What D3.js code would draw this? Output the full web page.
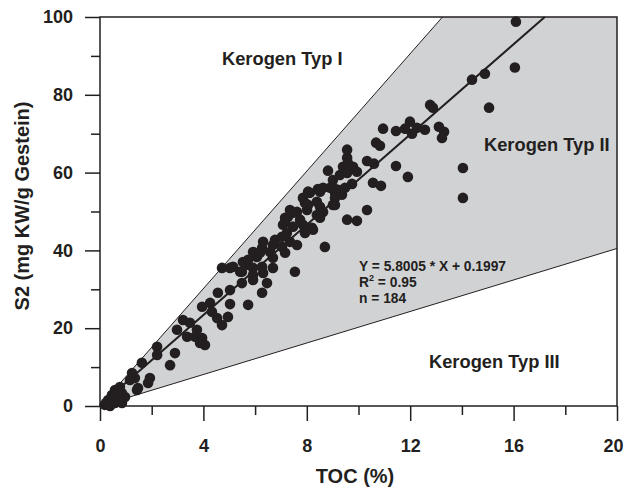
<!DOCTYPE html>
<html>
<head>
<meta charset="utf-8">
<script src="https://cdn.jsdelivr.net/npm/d3@7"></script>
<style>
  body { margin: 0; background: #fff; }
  svg text { font-family: "Liberation Sans", Arial, sans-serif; font-weight: bold; fill: #231f20; }
</style>
</head>
<body>
<div id="chart"></div>
<script>
// TOC (%) vs S2 (mg KW/g Gestein)
const samples = [
  [16.09, 98.8], [16.05, 87.0], [14.39, 83.9], [14.89, 85.4], [15.05, 76.7], [12.77, 77.4],
  [12.88, 76.7], [13.11, 71.8], [13.31, 70.5], [13.23, 68.9], [14.04, 61.2], [14.04, 53.5],
  [12.57, 71.0], [12.26, 71.5], [11.99, 73.1], [12.07, 70.0], [11.80, 71.3], [11.45, 70.7],
  [10.95, 71.3], [10.68, 67.7], [10.83, 66.9], [9.56, 65.9], [9.56, 63.8], [9.40, 61.5],
  [9.79, 61.5], [9.94, 60.2], [9.56, 59.9], [10.33, 63.0], [10.60, 62.3], [11.45, 61.7],
  [11.91, 58.9], [9.75, 57.1], [10.56, 57.4], [10.87, 56.6], [9.59, 62.5], [8.82, 60.5],
  [9.28, 59.4], [9.01, 58.1], [8.63, 56.1], [8.43, 55.8], [9.01, 56.3], [9.09, 54.8],
  [8.05, 55.1], [9.36, 54.3], [7.85, 53.5], [7.93, 52.2], [8.39, 52.5], [8.51, 51.2],
  [9.09, 53.5], [9.01, 51.7], [10.33, 50.4], [7.35, 50.4], [7.62, 49.9], [8.01, 50.4],
  [8.63, 49.9], [8.39, 49.1], [8.51, 48.4], [7.16, 48.4], [7.74, 47.9], [9.56, 47.9],
  [9.94, 47.6], [7.08, 46.6], [7.85, 46.6], [8.20, 45.8], [8.12, 54.8], [8.05, 51.7],
  [7.47, 49.7], [7.16, 47.3], [7.47, 46.1], [8.24, 45.3], [7.93, 44.5], [7.23, 44.5],
  [7.04, 43.5], [6.77, 42.7], [6.69, 41.4], [7.35, 42.2], [7.62, 41.4], [6.31, 42.2],
  [6.27, 40.6], [7.04, 40.9], [7.16, 39.4], [6.58, 39.6], [5.92, 39.6], [6.07, 38.3],
  [6.69, 38.1], [8.70, 40.9], [5.53, 37.0], [5.69, 36.3], [5.15, 35.8], [5.42, 34.5],
  [5.92, 35.5], [6.27, 35.8], [6.69, 35.5], [7.54, 34.5], [5.92, 33.7], [6.19, 39.4],
  [5.73, 37.6], [5.03, 35.5], [5.49, 34.5], [6.31, 34.2], [5.92, 32.4], [5.49, 31.6],
  [6.46, 31.6], [6.27, 29.1], [5.03, 29.8], [4.56, 29.1], [5.73, 26.0], [5.03, 26.2],
  [3.95, 25.5], [4.26, 26.5], [4.33, 24.2], [4.53, 22.6], [4.72, 20.8], [4.95, 22.9],
  [3.21, 22.1], [3.48, 21.4], [2.98, 19.6], [3.75, 19.6], [3.68, 17.8], [3.95, 17.5],
  [4.06, 15.7], [2.21, 15.2], [3.37, 17.8], [3.87, 16.2], [2.21, 13.1], [2.90, 13.6],
  [2.71, 10.5], [1.62, 11.1], [1.24, 8.5], [1.35, 7.2], [1.16, 6.7], [1.93, 7.2],
  [1.86, 5.9], [1.47, 4.6], [1.43, 4.1], [0.77, 4.9], [0.58, 4.1], [0.97, 2.3],
  [0.46, 2.8], [0.31, 1.5], [0.66, 1.5], [0.19, 0.3], [0.39, 0.0], [0.58, 0.8],
  [0.85, 0.8], [4.72, 35.5], [0.85, 3.3], [0.50, 1.5], [0.23, 0.8], [7.27, 48.6],
  [8.51, 55.1], [8.90, 56.1], [9.09, 51.7], [9.48, 56.1], [9.21, 55.6]
];

// regression and kerogen type boundaries
const fit = { slope: 5.8005, intercept: 0.1997 };
const upperBound = [[0, 0], [13.25, 100]];
const lowerBound = [[0, 0], [20, 40.5]];
const fitText = ['Y = 5.8005 * X + 0.1997', 'R', 'n = 184'];

const xTicks = [0, 4, 8, 12, 16, 20];
const xMinor = [2, 6, 10, 14, 18];
const yTicks = [0, 20, 40, 60, 80, 100];
const yMinor = [10, 30, 50, 70, 90];

const width = 626, height = 490;
const x = d3.scaleLinear().domain([0, 20]).range([100, 617]);
const y = d3.scaleLinear().domain([0, 100]).range([406, 17]);

const svg = d3.select('#chart').append('svg')
  .attr('width', width)
  .attr('height', height);

// shaded Typ II field
const field = [upperBound[0], upperBound[1], [20, 100], lowerBound[1]];
svg.append('path')
  .attr('d', d3.line().x(d => x(d[0])).y(d => y(d[1]))(field) + 'Z')
  .attr('fill', '#d1d2d4');

[upperBound, lowerBound].forEach(b => {
  svg.append('line')
    .attr('x1', x(b[0][0])).attr('y1', y(b[0][1]))
    .attr('x2', x(b[1][0])).attr('y2', y(b[1][1]))
    .attr('stroke', '#231f20').attr('stroke-width', 1);
});

// regression line, clipped at the top
const xEnd = (100 - fit.intercept) / fit.slope;
svg.append('line')
  .attr('x1', x(0)).attr('y1', y(fit.intercept))
  .attr('x2', x(xEnd)).attr('y2', y(100))
  .attr('stroke', '#231f20').attr('stroke-width', 2);

svg.append('g').selectAll('circle')
  .data(samples)
  .enter()
  .append('circle')
  .attr('cx', d => x(d[0]))
  .attr('cy', d => y(d[1]))
  .attr('r', 5.3)
  .attr('fill', '#231f20');

// frame
svg.append('rect')
  .attr('x', x(0)).attr('y', y(100))
  .attr('width', x(20) - x(0)).attr('height', y(0) - y(100))
  .attr('fill', 'none').attr('stroke', '#231f20').attr('stroke-width', 1.5);

const styleAxis = g => {
  g.select('.domain').remove();
  g.selectAll('line').attr('stroke', '#231f20').attr('stroke-width', 1.5);
  g.selectAll('text').style('font-size', '18px').attr('fill', '#231f20');
};

const xAxis = svg.append('g')
  .attr('transform', 'translate(0,' + y(0) + ')')
  .call(d3.axisBottom(x).tickValues(xTicks).tickSize(15).tickPadding(18).tickFormat(d3.format('d')))
  .call(styleAxis);
// last label sits on the page edge; nudge it inside
xAxis.selectAll('.tick text').filter(d => d === 20).attr('x', -4);

svg.append('g')
  .attr('transform', 'translate(0,' + y(0) + ')')
  .call(d3.axisBottom(x).tickValues(xMinor).tickSize(9).tickFormat(''))
  .call(styleAxis);
svg.append('g')
  .attr('transform', 'translate(' + x(0) + ',0)')
  .call(d3.axisLeft(y).tickValues(yTicks).tickSize(15).tickPadding(12).tickFormat(d3.format('d')))
  .call(styleAxis);
svg.append('g')
  .attr('transform', 'translate(' + x(0) + ',0)')
  .call(d3.axisLeft(y).tickValues(yMinor).tickSize(9).tickFormat(''))
  .call(styleAxis);

// axis titles
svg.append('text')
  .attr('x', 355).attr('y', 483)
  .attr('text-anchor', 'middle')
  .style('font-size', '20px')
  .text('TOC (%)');
svg.append('text')
  .attr('transform', 'translate(29,206) rotate(-90)')
  .attr('text-anchor', 'middle')
  .style('font-size', '20px')
  .text('S2 (mg KW/g Gestein)');

// field labels
const labels = [
  { t: 'Kerogen Typ I', x: 222, y: 65 },
  { t: 'Kerogen Typ II', x: 484, y: 151 },
  { t: 'Kerogen Typ III', x: 429, y: 368 }
];
svg.append('g').selectAll('text')
  .data(labels)
  .enter()
  .append('text')
  .attr('x', d => d.x).attr('y', d => d.y)
  .style('font-size', '18.3px')
  .text(d => d.t);

// regression stats
const stats = svg.append('g').style('font-size', '13.8px');
stats.append('text').attr('x', 359).attr('y', 271).text(fitText[0]);
const r2 = stats.append('text').attr('x', 359).attr('y', 287);
r2.append('tspan').text(fitText[1]);
r2.append('tspan').attr('dy', -6).style('font-size', '9px').text('2');
r2.append('tspan').attr('dy', 6).text(' = 0.95');
stats.append('text').attr('x', 359).attr('y', 303).text(fitText[2]);
</script>
</body>
</html>
